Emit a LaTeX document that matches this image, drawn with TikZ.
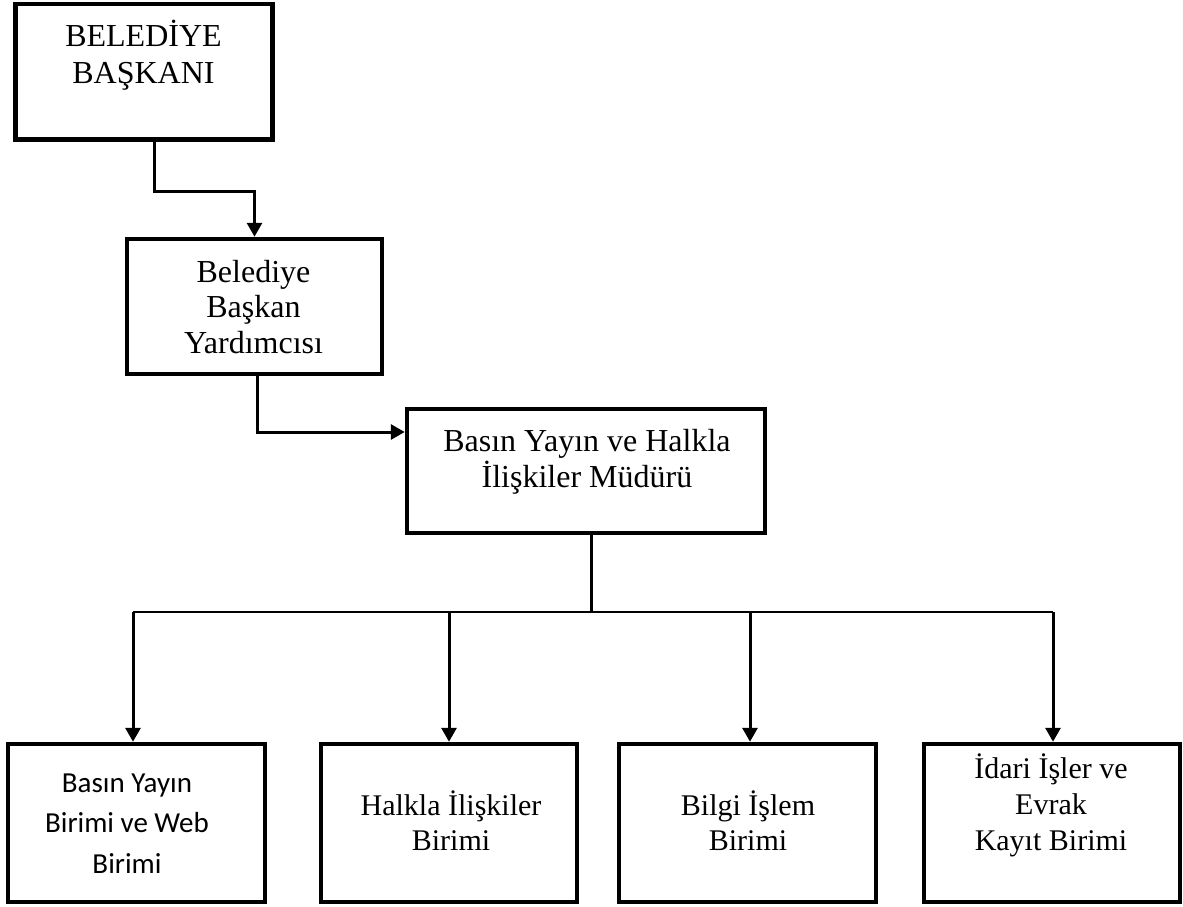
\documentclass[tikz,border=0pt]{standalone}
\usepackage{fontspec}
\setmainfont{Liberation Serif}
\newfontfamily\calib{Carlito}
\usetikzlibrary{arrows.meta}
\begin{document}
\begin{tikzpicture}[x=1pt,y=-1pt,
  box/.style={draw=black, line width=4.5pt, rectangle, inner sep=0pt},
  txt/.style={anchor=base, inner sep=0pt},
  conn/.style={draw=black, line width=3pt, -{Triangle[width=15pt,length=14pt]}},
  plain/.style={draw=black, line width=3pt},
  bus/.style={draw=black, line width=1.7pt}
]
\useasboundingbox (0,0) rectangle (1183,907);
% boxes
\node[box, minimum width=257pt, minimum height=135.5pt] (b1) at (144,71.75) {};
\node[box, minimum width=255pt, minimum height=135pt] (b2) at (254.5,306.5) {};
\node[box, minimum width=358pt, minimum height=124pt] (b3) at (586,471) {};
\node[box, minimum width=257pt, minimum height=158pt] (c1) at (136.5,823) {};
\node[box, minimum width=256pt, minimum height=158pt] (c2) at (449,823) {};
\node[box, minimum width=257pt, minimum height=158pt] (c3) at (747.5,823) {};
\node[box, minimum width=256pt, minimum height=158pt] (c4) at (1052,823) {};
% texts
\node[txt] (t1) at (143.5,47) {\fontsize{32}{36}\selectfont\begin{tabular}[t]{@{}c@{}}\smash{BELEDİYE}\\\smash{BAŞKANI}\end{tabular}};
\node[txt] (t2) at (253.5,282) {\fontsize{32}{35.5}\selectfont\begin{tabular}[t]{@{}c@{}}\smash{Belediye}\\\smash{Başkan}\\\smash{Yardımcısı}\end{tabular}};
\node[txt] (t3) at (587,451) {\fontsize{32}{36}\selectfont\begin{tabular}[t]{@{}c@{}}\smash{Basın Yayın ve Halkla}\\\smash{İlişkiler Müdürü}\end{tabular}};
\node[txt] (s1) at (127,792) {\calib\fontsize{29}{40.5}\selectfont\begin{tabular}[t]{@{}c@{}}\smash{Basın Yayın}\\\smash{Birimi ve Web}\\\smash{Birimi}\end{tabular}};
\node[txt] (s2) at (451,815) {\fontsize{30}{35}\selectfont\begin{tabular}[t]{@{}c@{}}\smash{Halkla İlişkiler}\\\smash{Birimi}\end{tabular}};
\node[txt] (s3) at (748,815) {\fontsize{30}{35}\selectfont\begin{tabular}[t]{@{}c@{}}\smash{Bilgi İşlem}\\\smash{Birimi}\end{tabular}};
\node[txt] (s4) at (1051,778) {\fontsize{30}{36}\selectfont\begin{tabular}[t]{@{}c@{}}\smash{İdari İşler ve}\\\smash{Evrak}\\\smash{Kayıt Birimi}\end{tabular}};
% connectors
\coordinate (j1) at (154,191);
\draw[conn] ([xshift=10pt]b1.south) -- (j1) -| (b2.north);
\draw[conn] ([xshift=2.5pt]b2.south) |- ([yshift=39pt]b3.west);
\coordinate (busL) at (133,612);
\coordinate (busR) at (1053,612);
\coordinate (busM) at (591,612);
\draw[plain] ([xshift=5pt]b3.south) -- (busM);
\draw[bus] (busL) -- (busR);
\draw[conn] (busL) -- ([xshift=-3.5pt]c1.north);
\draw[conn] (c2.north |- busL) -- (c2.north);
\draw[conn] ([xshift=2.5pt]c3.north |- busL) -- ([xshift=2.5pt]c3.north);
\draw[conn] (busR) -- ([xshift=1pt]c4.north);
\end{tikzpicture}
\end{document}
